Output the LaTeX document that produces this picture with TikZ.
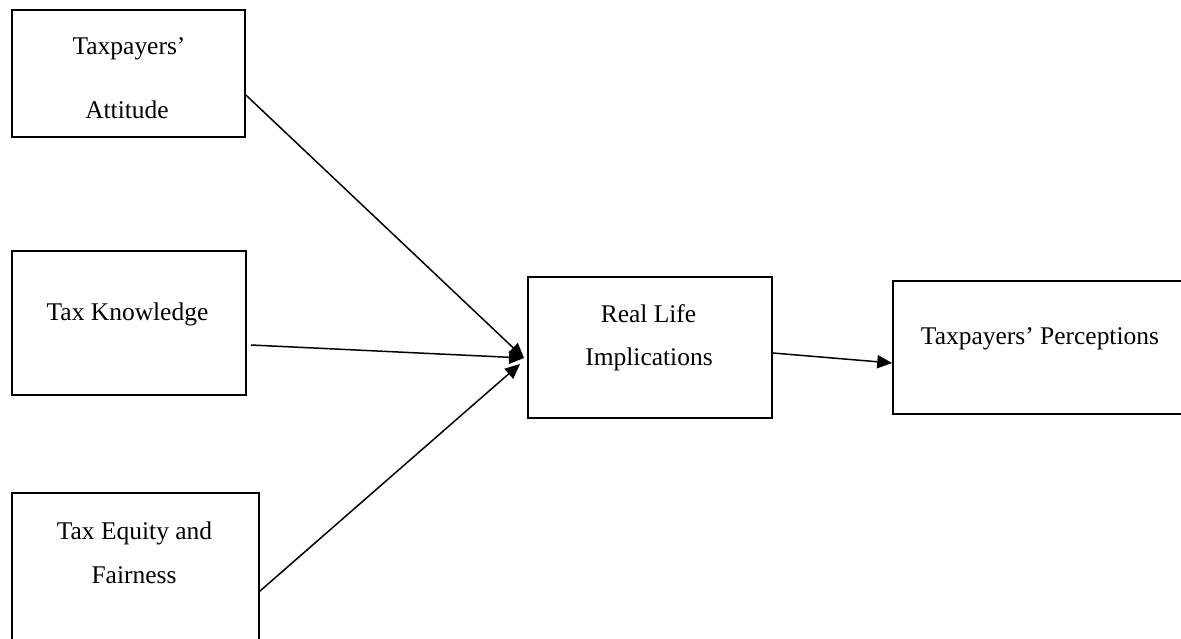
\documentclass[tikz,border=0pt]{standalone}
\usepackage{fontspec}
\setmainfont{Liberation Serif}
\usetikzlibrary{arrows.meta}

\begin{document}
\begin{tikzpicture}[x=0.02cm, y=-0.02cm,
	box/.style = {draw, rectangle, line width=1pt, inner sep=0pt},
	txt/.style = {anchor=base, inner sep=0pt, font=\fontsize{14.5}{17}\selectfont},
	arr/.style = {-{Triangle[length=8.5pt, width=7.5pt]}, line width=0.85pt}]
				\clip (0,0) rectangle (1181,639);
				\node[box, minimum width=4.66cm, minimum height=2.54cm] (att) at (128.5,73.5) {};
				\node[box, minimum width=4.68cm, minimum height=2.88cm] (know) at (129,323) {};
				\node[box, minimum width=4.94cm, minimum height=3.34cm] (eq) at (135.5,576.5) {};
				\node[box, minimum width=4.88cm, minimum height=2.82cm] (rl) at (650,347.5) {};
				\node[box, minimum width=6.14cm, minimum height=2.66cm] (perc) at (1046.5,347.5) {};
				
				\node[txt] (att1) at (129,54) {Taxpayers’};
				\node[txt] (att2) at (127,118) {Attitude};
				\node[txt] (know1) at (127.5,320) {Tax Knowledge};
				\node[txt] (eq1) at (134.5,539) {Tax Equity and};
				\node[txt] (eq2) at (134,583) {Fairness};
				\node[txt] (rl1) at (648.5,322) {Real Life};
				\node[txt] (rl2) at (649,365) {Implications};
				\node[txt] (perc1) at (1040,344) {Taxpayers’ Perceptions};
				
				\coordinate (hub) at (524,358);
				\coordinate (hub2) at (520,364);
				\draw[arr] ([shift={(0,21.5)}]att.east) -- (hub);
				\draw[arr] ([shift={(4,22)}]know.east) -- (hub);
				\draw[arr] ([shift={(-1,15.5)}]eq.east) -- (hub2);
				\draw[arr] ([shift={(0,5.5)}]rl.east) -- ([shift={(0,15.5)}]perc.west);
			\end{tikzpicture}
\end{document}
